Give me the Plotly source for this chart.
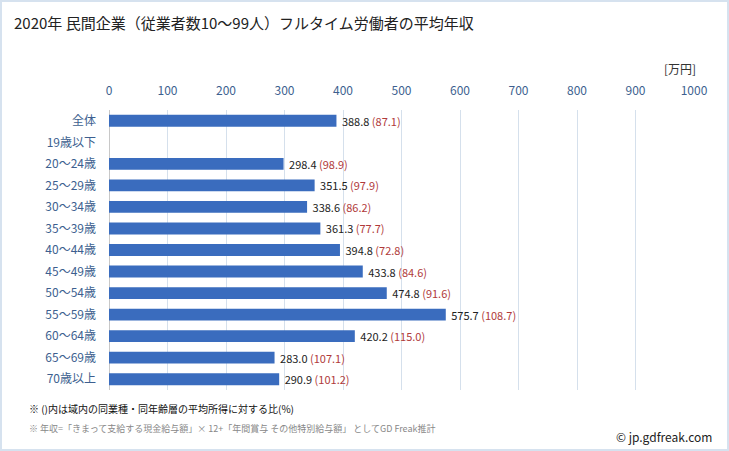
import plotly.graph_objects as go

categories = ["全体", "19歳以下", "20～24歳", "25～29歳", "30～34歳", "35～39歳", "40～44歳",
              "45～49歳", "50～54歳", "55～59歳", "60～64歳", "65～69歳", "70歳以上"]
values = [388.8, None, 298.4, 351.5, 338.6, 361.3, 394.8, 433.8, 474.8, 575.7, 420.2, 283.0, 290.9]
ratios = [87.1, None, 98.9, 97.9, 86.2, 77.7, 72.8, 84.6, 91.6, 108.7, 115.0, 107.1, 101.2]
tick_vals = [0, 100, 200, 300, 400, 500, 600, 700, 800, 900, 1000]

texts = []
for v, r in zip(values, ratios):
    if v is None:
        texts.append("")
    else:
        texts.append(f"\u00a0{v:.1f} <span style='color:#b03a3a'>({r:.1f})</span>")

FONT = "Noto Sans CJK JP, Noto Sans, sans-serif"

fig = go.Figure()
fig.add_trace(go.Bar(
    y=categories, x=values, orientation="h",
    marker=dict(color="#3a6cbe", line=dict(width=0)),
    width=0.55,
    text=texts, textposition="outside", cliponaxis=False, constraintext="none",
    textfont=dict(size=11, color="#222222", family=FONT),
    hoverinfo="skip",
))

fig.update_layout(
    width=729, height=451,
    margin=dict(l=109, r=35, t=110, b=61),
    paper_bgcolor="white", plot_bgcolor="white",
    showlegend=False,
    font=dict(family=FONT),
    xaxis=dict(range=[0, 1000], side="top", tickvals=tick_vals, automargin=False,
               showgrid=True, gridcolor="#d5e0ec", gridwidth=1,
               zeroline=True, zerolinecolor="#c8c8c8", zerolinewidth=1,
               tickfont=dict(size=12, color="#3d5f8f", family=FONT),
               ticks="", ticklabelstandoff=12, fixedrange=True),
    yaxis=dict(autorange="reversed", automargin=False, tickfont=dict(size=12, color="#3d5f8f", family=FONT),
               ticks="", ticklabelstandoff=12, showgrid=False, fixedrange=True),
    shapes=[dict(type="rect", xref="paper", yref="paper", x0=-108/585, x1=(585+34)/585,
                 y0=-60/280, y1=(280+109)/280, line=dict(color="#d6e2ef", width=2))],
    annotations=[
        dict(text="2020年 民間企業（従業者数10～99人）フルタイム労働者の平均年収", xref="paper", yref="paper",
             x=-97/585, y=(280+110-22)/280, xanchor="left", yanchor="middle", showarrow=False,
             font=dict(size=15, color="#222222", family=FONT)),
        dict(text="[万円]", xref="paper", yref="paper",
             x=(698-109)/585, y=(280+110-68)/280, xanchor="right", yanchor="middle", showarrow=False,
             font=dict(size=12, color="#333333", family=FONT)),
        dict(text="※ ()内は域内の同業種・同年齢層の平均所得に対する比(%)", xref="paper", yref="paper",
             x=-82/585, y=-(408-390)/280, xanchor="left", yanchor="middle", showarrow=False,
             font=dict(size=10, color="#111111", family=FONT)),
        dict(text="※ 年収=「きまって支給する現金給与額」× 12+「年間賞与 その他特別給与額」 としてGD Freak推計", xref="paper", yref="paper",
             x=-82/585, y=-(428-390)/280, xanchor="left", yanchor="middle", showarrow=False,
             font=dict(size=9, color="#888888", family=FONT)),
        dict(text="© jp.gdfreak.com", xref="paper", yref="paper",
             x=(714-109)/585, y=-(436-390)/280, xanchor="right", yanchor="middle", showarrow=False,
             font=dict(size=12, color="#222222", family=FONT)),
    ],
)

fig.write_html("out.html", config={"displayModeBar": False},
               post_script="document.body.style.margin='0px';document.body.style.overflow='hidden';")
